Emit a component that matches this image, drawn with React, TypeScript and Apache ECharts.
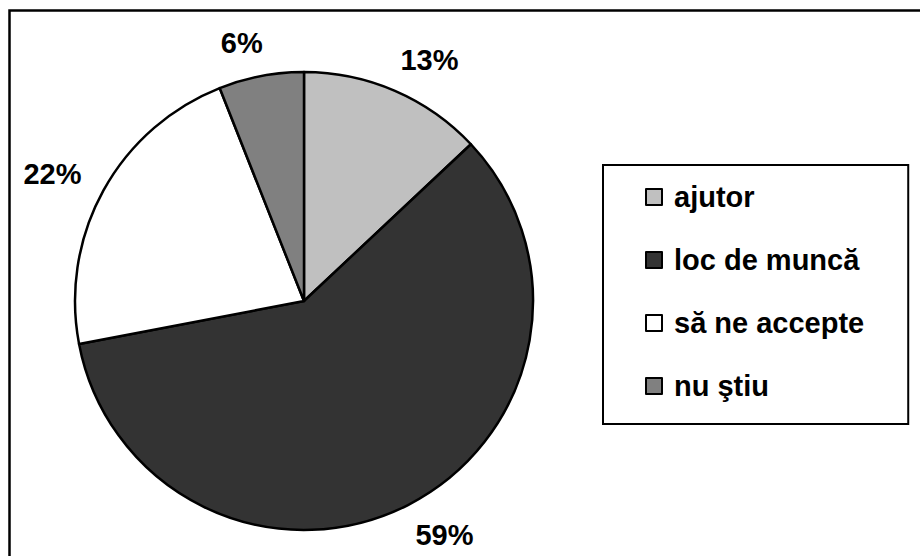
import React, { useEffect, useRef } from "react";
import * as echarts from "echarts";

const categories = ["ajutor", "loc de muncă", "să ne accepte", "nu ştiu"];
const values = [13, 59, 22, 6];
const colors = ["#c0c0c0", "#333333", "#ffffff", "#808080"];

export default function App() {
  const ref = useRef<HTMLDivElement>(null);
  useEffect(() => {
    document.body.style.margin = "0";
    const chart = echarts.init(ref.current!, null, { renderer: "svg" });
    const font = "'Liberation Sans', Arial, sans-serif";
    chart.setOption({
      animation: false,
      backgroundColor: "#ffffff",
      graphic: [
        {
          type: "rect",
          shape: { x: 9.5, y: 10.5, width: 1000, height: 1000 },
          style: { fill: "none", stroke: "#000", lineWidth: 2.5 },
          silent: true,
        },
      ],
      legend: {
        orient: "vertical",
        left: 603,
        top: 165,
        padding: [16, 44, 22, 42],
        borderColor: "#000",
        borderWidth: 2,
        itemWidth: 16,
        itemHeight: 16,
        itemGap: 31,
        icon: "rect",
        itemStyle: { borderColor: "#000", borderWidth: 2 },
        textStyle: {
          fontFamily: font,
          fontWeight: "bold",
          fontSize: 29,
          color: "#000",
          lineHeight: 32,
          padding: [0, 0, 0, 7],
        },
        data: categories,
      },
      series: [
        {
          type: "pie",
          center: [304, 301],
          radius: 229,
          startAngle: 90,
          clockwise: true,
          avoidLabelOverlap: false,
          itemStyle: { borderColor: "#000", borderWidth: 2.5 },
          label: {
            show: true,
            position: "outside",
            formatter: (p: any) => p.value + "%",
            fontFamily: font,
            fontWeight: "bold",
            fontSize: 29,
            color: "#000",
            distanceToLabelLine: 0,
          },
          labelLine: { show: false, length: 34, length2: -8 },
          emphasis: { disabled: true },
          data: categories.map((name, i) => ({
            name,
            value: values[i],
            itemStyle: { color: colors[i] },
          })),
        },
      ],
    });
    return () => chart.dispose();
  }, []);
  return (
    <div
      ref={ref}
      style={{ position: "fixed", left: 0, top: 0, width: 920, height: 556 }}
    />
  );
}
